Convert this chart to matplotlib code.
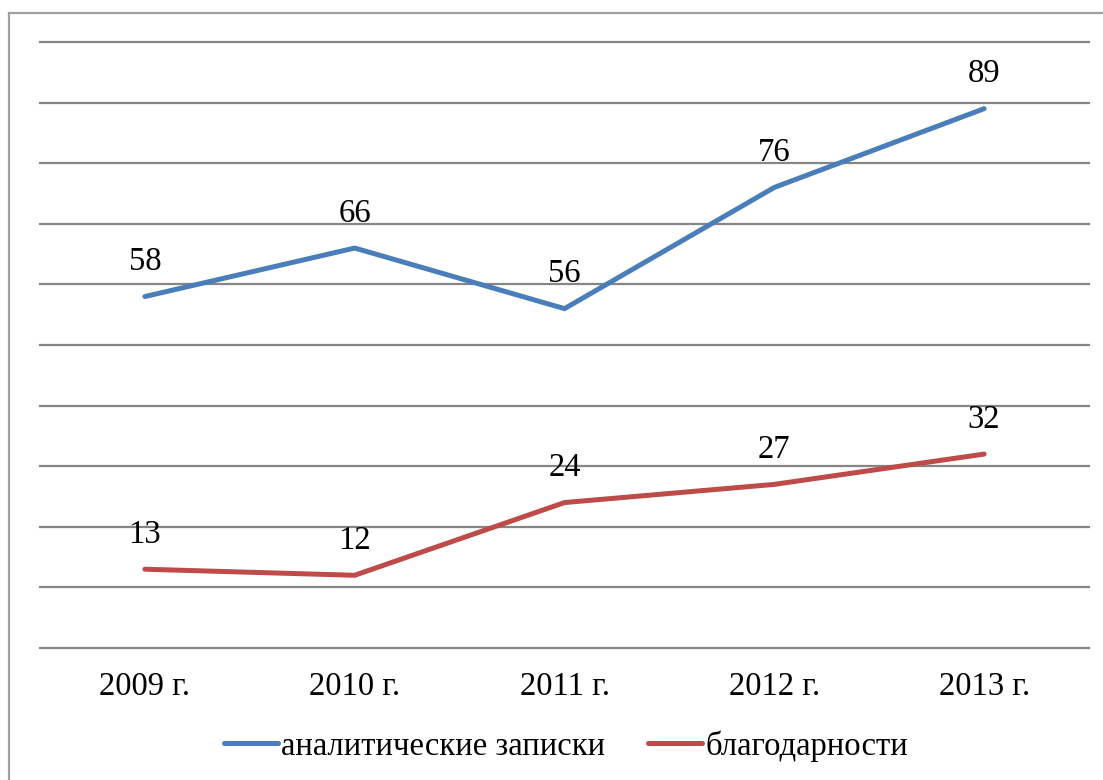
import matplotlib
matplotlib.use('Agg')
import matplotlib.pyplot as plt
from matplotlib.lines import Line2D

# chart data
years = ['2009 г.', '2010 г.', '2011 г.', '2012 г.', '2013 г.']
notes = [58, 66, 56, 76, 89]
thanks = [13, 12, 24, 27, 32]
names = ['аналитические записки', 'благодарности']

plt.rcParams['font.family'] = ['Liberation Serif', 'DejaVu Serif']
FS = 23.5

W, H = 1103, 780
fig = plt.figure(figsize=(W / 100, H / 100), dpi=100)
ax = fig.add_axes([40 / W, 1 - 648 / H, (1089 - 40) / W, (648 - 42) / H])

x = list(range(len(years)))
ax.plot(x, notes, color='#4a7ebb', lw=3.6, solid_capstyle='round', label=names[0])
ax.plot(x, thanks, color='#be4b48', lw=3.6, solid_capstyle='round', label=names[1])

for vals in (notes, thanks):
    for xi, v in zip(x, vals):
        ax.annotate(str(v), (xi, v), xytext=(0, 25), textcoords='offset points',
                    ha='center', va='center', fontsize=FS)

ax.set_xlim(-0.5, 4.5)
ax.set_ylim(0, 100)
ax.set_yticks(range(0, 101, 10))
ax.set_yticklabels([])
ax.set_xticks(x)
ax.set_xticklabels(years, fontsize=FS)
ax.tick_params(axis='both', length=0)
ax.tick_params(axis='x', pad=17)
ax.grid(axis='y', color='#868686', lw=1.6)
for gl in ax.get_ygridlines():
    gl.set_clip_on(False)
ax.set_axisbelow(True)
for s in ax.spines.values():
    s.set_visible(False)

fig.legend(loc='center', bbox_to_anchor=(566 / W, 1 - 746 / H), ncol=2,
           frameon=False, fontsize=FS, handlelength=1.65, handletextpad=0.1,
           columnspacing=1.3)

# outer frame (top and left edges only visible)
fig.add_artist(Line2D([9 / W, 9 / W], [0, 1 - 13 / H], transform=fig.transFigure,
                      color='#a0a0a0', lw=1.6))
fig.add_artist(Line2D([9 / W, 1], [1 - 13 / H, 1 - 13 / H], transform=fig.transFigure,
                      color='#a0a0a0', lw=1.6))

fig.savefig('out.png', dpi=100)
